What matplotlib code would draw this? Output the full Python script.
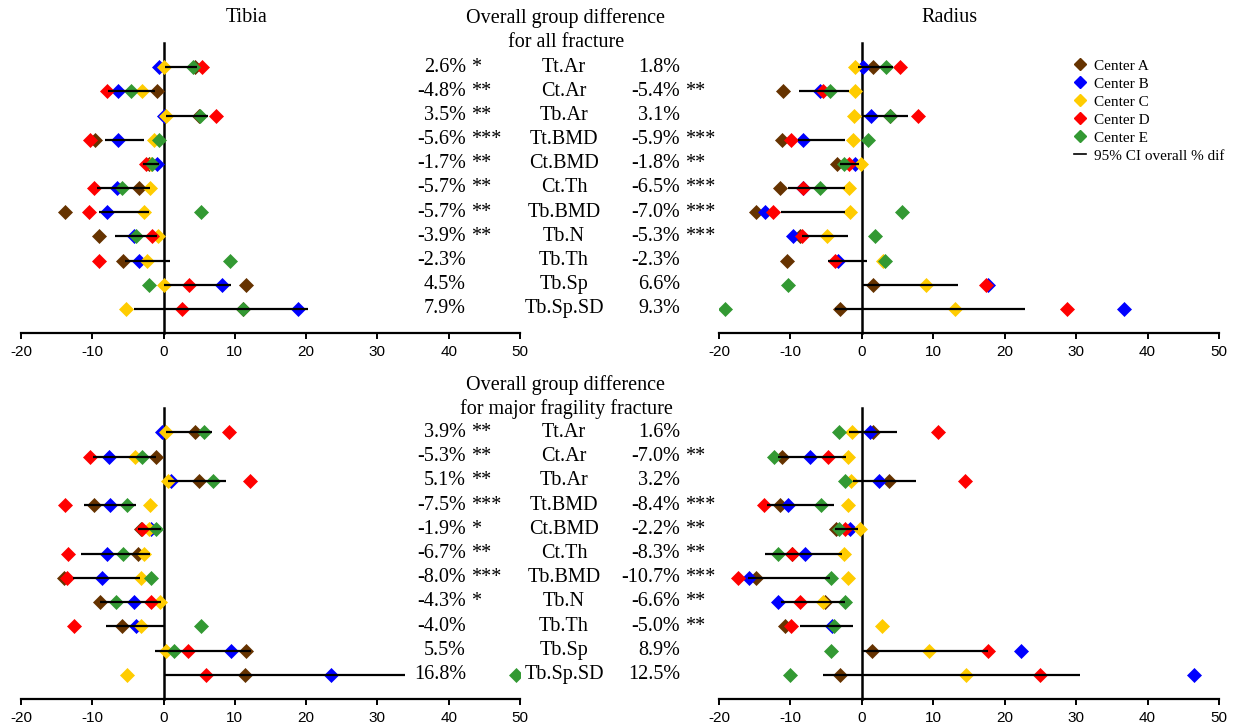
import matplotlib
matplotlib.use("Agg")
import matplotlib.pyplot as plt
from matplotlib.lines import Line2D
from matplotlib.transforms import blended_transform_factory

# ---------------- data ----------------
params = ["Tt.Ar", "Ct.Ar", "Tb.Ar", "Tt.BMD", "Ct.BMD", "Ct.Th",
          "Tb.BMD", "Tb.N", "Tb.Th", "Tb.Sp", "Tb.Sp.SD"]
centers = ["Center A", "Center B", "Center C", "Center D", "Center E"]
center_colors = ["#663300", "#0000FF", "#FFCC00", "#FF0000", "#339933"]
x_ticks = [-20, -10, 0, 10, 20, 30, 40, 50]

# Tibia, all fracture
tib_all_A = [4.4, -0.9, 5.0, -9.6, -2.1, -3.5, -13.8, -9.0, -5.7, 11.6, 11.2]
tib_all_B = [-0.7, -6.4, 0.0, -6.4, -0.9, -6.5, -8.0, -4.1, -3.5, 8.2, 18.9]
tib_all_C = [0.1, -3.0, 0.3, -1.4, -1.7, -1.9, -2.7, -0.8, -2.3, 0.1, -5.3]
tib_all_D = [5.4, -7.9, 7.4, -10.3, -2.4, -9.8, -10.5, -1.6, -9.1, 3.6, 2.6]
tib_all_E = [4.1, -4.6, 5.1, -0.6, -1.6, -5.8, 5.3, -3.9, 9.3, -2.0, 11.2]
tib_all_lo = [0.2, -7.8, 0.3, -8.2, -2.9, -9.3, -9.1, -6.8, -5.4, 0.0, -4.2]
tib_all_hi = [4.7, -1.2, 6.3, -2.8, -0.6, -1.9, -2.0, -0.9, 0.9, 9.5, 20.2]

# Radius, all fracture
rad_all_A = [1.5, -11.0, 3.9, -11.2, -3.5, -11.5, -14.8, -8.6, -10.5, 1.5, -3.0]
rad_all_B = [0.2, -5.9, 1.3, -8.3, -0.9, -8.2, -13.6, -9.7, -3.4, 17.7, 36.7]
rad_all_C = [-1.0, -0.9, -1.1, -1.2, -0.1, -1.8, -1.7, -4.9, 3.0, 9.0, 13.0]
rad_all_D = [5.4, -5.5, 7.8, -9.9, -1.8, -8.2, -12.4, -8.4, -3.8, 17.4, 28.7]
rad_all_E = [3.4, -4.5, 3.9, 0.9, -2.5, -5.9, 5.6, 1.8, 3.2, -10.4, -19.2]
rad_all_lo = [-0.6, -8.8, 0.0, -8.9, -3.0, -10.3, -11.3, -8.4, -4.8, 0.0, -3.8]
rad_all_hi = [4.3, -1.8, 6.5, -2.4, -0.4, -2.4, -2.4, -1.9, 0.7, 13.5, 22.9]

# Tibia, major fragility fracture
tib_maj_A = [4.4, -1.0, 5.0, -9.7, -3.2, -3.6, -14.0, -8.9, -5.8, 11.5, 11.4]
tib_maj_B = [-0.2, -7.7, 1.1, -7.5, -1.7, -8.0, -8.6, -4.1, -3.9, 9.5, 23.5]
tib_maj_C = [0.3, -4.0, 0.6, -1.9, -2.1, -2.7, -3.2, -0.5, -3.2, 0.4, -5.1]
tib_maj_D = [9.2, -10.3, 12.1, -13.8, -3.0, -13.4, -13.6, -1.8, -12.5, 3.4, 5.9]
tib_maj_E = [5.7, -3.0, 6.9, -5.1, -1.0, -5.7, -1.7, -6.7, 5.3, 1.4, 49.4]
tib_maj_lo = [0.3, -9.9, 0.6, -11.1, -3.6, -11.6, -12.7, -8.9, -8.1, -1.2, 0.0]
tib_maj_hi = [6.8, -1.0, 8.7, -3.9, -0.4, -1.9, -3.3, -0.3, 0.0, 12.3, 33.9]

# Radius, major fragility fracture
rad_maj_A = [1.5, -11.2, 3.8, -11.4, -3.6, -9.8, -14.8, -5.1, -10.8, 1.4, -3.0]
rad_maj_B = [1.1, -7.2, 2.4, -10.3, -1.7, -7.9, -15.8, -11.7, -4.2, 22.3, 46.5]
rad_maj_C = [-1.4, -1.9, -1.5, -1.9, -0.3, -2.5, -2.0, -5.4, 2.8, 9.4, 14.6]
rad_maj_D = [10.7, -4.8, 14.5, -13.7, -2.3, -9.8, -17.3, -8.6, -9.9, 17.6, 24.9]
rad_maj_E = [-3.2, -12.3, -2.3, -5.7, -3.2, -11.7, -4.3, -2.4, -3.9, -4.3, -10.0]
rad_maj_lo = [-1.8, -11.8, -1.3, -13.3, -3.8, -13.5, -16.0, -11.3, -8.6, 0.1, -5.4]
rad_maj_hi = [4.9, -2.2, 7.6, -3.9, -0.5, -2.8, -4.5, -2.3, -1.3, 17.7, 30.5]

# overall group difference text
tib_all_pct = ["2.6%", "-4.8%", "3.5%", "-5.6%", "-1.7%", "-5.7%", "-5.7%", "-3.9%", "-2.3%", "4.5%", "7.9%"]
tib_all_sig = ["*", "**", "**", "***", "**", "**", "**", "**", "", "", ""]
rad_all_pct = ["1.8%", "-5.4%", "3.1%", "-5.9%", "-1.8%", "-6.5%", "-7.0%", "-5.3%", "-2.3%", "6.6%", "9.3%"]
rad_all_sig = ["", "**", "", "***", "**", "***", "***", "***", "", "", ""]
tib_maj_pct = ["3.9%", "-5.3%", "5.1%", "-7.5%", "-1.9%", "-6.7%", "-8.0%", "-4.3%", "-4.0%", "5.5%", "16.8%"]
tib_maj_sig = ["**", "**", "**", "***", "*", "**", "***", "*", "", "", ""]
rad_maj_pct = ["1.6%", "-7.0%", "3.2%", "-8.4%", "-2.2%", "-8.3%", "-10.7%", "-6.6%", "-5.0%", "8.9%", "12.5%"]
rad_maj_sig = ["", "**", "", "***", "**", "**", "***", "**", "**", "", ""]

title_all = "Overall group difference\nfor all fracture"
title_maj = "Overall group difference\nfor major fragility fracture"

# ---------------- figure ----------------
W, H = 1236, 727
fig = plt.figure(figsize=(W / 100, H / 100), dpi=100)
SERIF = ["Liberation Serif", "DejaVu Serif"]
SANS = ["Liberation Sans", "DejaVu Sans"]


def px_rect(x0, y0, x1, y1):
    return [x0 / W, 1 - y1 / H, (x1 - x0) / W, (y1 - y0) / H]


ax_ta = fig.add_axes(px_rect(21, 43, 520, 333))
ax_ra = fig.add_axes(px_rect(719, 43, 1219, 333))
ax_tm = fig.add_axes(px_rect(21, 408, 520, 699))
ax_rm = fig.add_axes(px_rect(719, 408, 1219, 699))

rows = list(range(len(params)))


def draw_panel(ax, series, lo, hi):
    for vals, col in zip(series, center_colors):
        ax.plot(vals, rows, linestyle="none", marker="D", markersize=7.5,
                color=col, markeredgecolor=col, markeredgewidth=0.5, zorder=3)
    ax.hlines(rows, lo, hi, colors="black", linewidth=1.6, zorder=4)
    ax.set_xlim(-20, 50)
    ax.set_ylim(11, -1)
    ax.set_xticks(x_ticks)
    ax.set_xticklabels([str(t) for t in x_ticks], fontfamily=SANS, fontsize=11)
    ax.set_yticks([])
    for s in ("top", "right"):
        ax.spines[s].set_visible(False)
    ax.spines["left"].set_position(("data", 0))
    ax.spines["left"].set_linewidth(1.8)
    ax.spines["bottom"].set_linewidth(1.6)
    ax.tick_params(axis="x", direction="out", length=4, width=1.4, pad=5)
    ax.patch.set_alpha(0)


draw_panel(ax_ta, [tib_all_A, tib_all_B, tib_all_C, tib_all_D, tib_all_E], tib_all_lo, tib_all_hi)
draw_panel(ax_ra, [rad_all_A, rad_all_B, rad_all_C, rad_all_D, rad_all_E], rad_all_lo, rad_all_hi)
draw_panel(ax_tm, [tib_maj_A, tib_maj_B, tib_maj_C, tib_maj_D, tib_maj_E], tib_maj_lo, tib_maj_hi)
draw_panel(ax_rm, [rad_maj_A, rad_maj_B, rad_maj_C, rad_maj_D, rad_maj_E], rad_maj_lo, rad_maj_hi)

FS = 14.5


def middle_text(ax, lpct, lsig, rpct, rsig, title, title_y):
    tr = blended_transform_factory(fig.transFigure, ax.transData)
    for i, p in enumerate(params):
        ax.text(466 / W, i, lpct[i], transform=tr, ha="right", va="center",
                fontfamily=SERIF, fontsize=FS, zorder=5)
        if lsig[i]:
            ax.text(471 / W, i, lsig[i], transform=tr, ha="left", va="center",
                    fontfamily=SERIF, fontsize=FS, zorder=5)
        ax.text(564 / W, i, p, transform=tr, ha="center", va="center",
                fontfamily=SERIF, fontsize=FS, zorder=5)
        ax.text(680 / W, i, rpct[i], transform=tr, ha="right", va="center",
                fontfamily=SERIF, fontsize=FS, zorder=5)
        if rsig[i]:
            ax.text(685 / W, i, rsig[i], transform=tr, ha="left", va="center",
                    fontfamily=SERIF, fontsize=FS, zorder=5)
    fig.text(566 / W, 1 - title_y / H, title, ha="center", va="center",
             fontfamily=SERIF, fontsize=FS, linespacing=1.3)


middle_text(ax_ta, tib_all_pct, tib_all_sig, rad_all_pct, rad_all_sig, title_all, 30)
middle_text(ax_tm, tib_maj_pct, tib_maj_sig, rad_maj_pct, rad_maj_sig, title_maj, 397)

fig.text(247 / W, 1 - 18 / H, "Tibia", ha="center", va="center", fontfamily=SERIF, fontsize=FS)
fig.text(949 / W, 1 - 18 / H, "Radius", ha="center", va="center", fontfamily=SERIF, fontsize=FS)

# legend
handles = [Line2D([], [], linestyle="none", marker="D", markersize=6.5, color=c)
           for c in center_colors]
handles.append(Line2D([], [], color="black", linewidth=1.2))
labels = centers + ["95% CI overall % dif"]
leg = ax_ra.legend(handles, labels, loc="upper left",
                   bbox_to_anchor=(1074 / W, 1 - 59 / H), bbox_transform=fig.transFigure,
                   frameon=False, prop={"family": SERIF, "size": 11},
                   handlelength=0.8, handletextpad=0.5, labelspacing=0.28,
                   borderpad=0, borderaxespad=0)

fig.savefig("out.png", dpi=100)
